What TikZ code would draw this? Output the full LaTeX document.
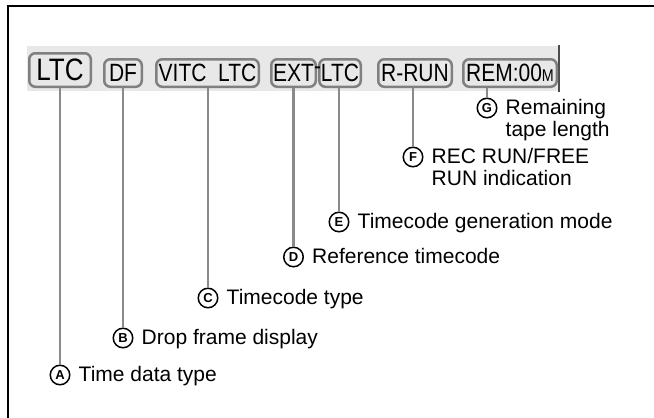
\documentclass[tikz,border=0pt]{standalone}
\usepackage{fontspec}
\setmainfont{Liberation Sans}
\newfontfamily\lcdfont[FakeStretch=0.84]{Liberation Sans}
\usepackage{tikz}
\usetikzlibrary{positioning}
\definecolor{bandgray}{gray}{0.91}
\definecolor{seggray}{gray}{0.5}
\definecolor{leadgray}{gray}{0.54}

\begin{document}
\begin{tikzpicture}[x=1pt,y=-1pt,
    seg/.style={draw=seggray, line width=2.5pt, rounded corners=6pt, inner sep=0pt,
      minimum height=27.5pt, font=\lcdfont\fontsize{25}{25}\selectfont},
    leader/.style={draw=leadgray, line width=2.2pt},
    badge/.style={circle, draw, line width=1.5pt, inner sep=0pt, minimum size=19.5pt,
      font=\fontsize{13}{13}\selectfont\bfseries},
    lbl/.style={font=\fontsize{21}{21.5}\selectfont, inner sep=0pt, align=left, anchor=base west}]
      \useasboundingbox (0,0) rectangle (654,418);
      \draw[line width=2pt] (8,418) -- (8,6) -- (654,6);
      \fill[bandgray] (27,46) rectangle (559,91);
      \draw[line width=1.5pt, black!70] (559,45) -- (559,92);

      \node[seg, minimum width=61.5pt, minimum height=33.5pt,
        font=\lcdfont\fontsize{31}{31}\selectfont] (ltc) at (60,70) {LTC};
      \node[seg, minimum width=37.5pt] (df) at (123,73) {DF};
      \node[seg, minimum width=102.5pt] (vitc) at (207.5,73) {VITC\ \ LTC};
      \node[seg, minimum width=44.5pt] (ext) at (293.5,73) {EXT};
      \node[seg, minimum width=41.5pt] (gen) at (340,73) {LTC};
      \node[font=\lcdfont\fontsize{25}{25}\selectfont, inner sep=0pt] (hyph) at (317.5,71) {-};
      \node[seg, minimum width=73.5pt] (rrun) at (415,73) {R-RUN};
      \node[seg, minimum width=93.5pt] (rem) at (510,73) {REM:00{\fontsize{17}{17}\selectfont M}};

      \node[badge] (ba) at (60,375) {A};
      \node[badge] (bb) at (123,338) {B};
      \node[badge] (bc) at (208,298) {C};
      \node[badge] (bd) at (293.5,257) {D};
      \node[badge] (be) at (339,222) {E};
      \node[badge] (bf) at (413,157) {F};
      \node[badge] (bg) at (487,108) {G};

      \foreach \s/\b in {ltc/ba, df/bb, vitc/bc, ext/bd, gen/be, rrun/bf, rem/bg}
        \draw[leader] (\s.south -| \b) -- (\b.north);

      \node[lbl] (ta) at ([xshift=8pt, yshift=-6.5pt]ba.east) {Time data type};
      \node[lbl] (tb) at ([xshift=8pt, yshift=-6.5pt]bb.east) {Drop frame display};
      \node[lbl] (tc) at ([xshift=8pt, yshift=-6.5pt]bc.east) {Timecode type};
      \node[lbl] (td) at ([xshift=8pt, yshift=-6.5pt]bd.east) {Reference timecode};
      \node[lbl] (te) at ([xshift=8pt, yshift=-6.5pt]be.east) {Timecode generation mode};
      \node[lbl] (tf) at ([xshift=8pt, yshift=-28pt]bf.east) {REC RUN/FREE\\RUN indication};
      \node[lbl] (tg) at ([xshift=8pt, yshift=-28pt]bg.east) {Remaining\\tape length};
    \end{tikzpicture}
\end{document}
